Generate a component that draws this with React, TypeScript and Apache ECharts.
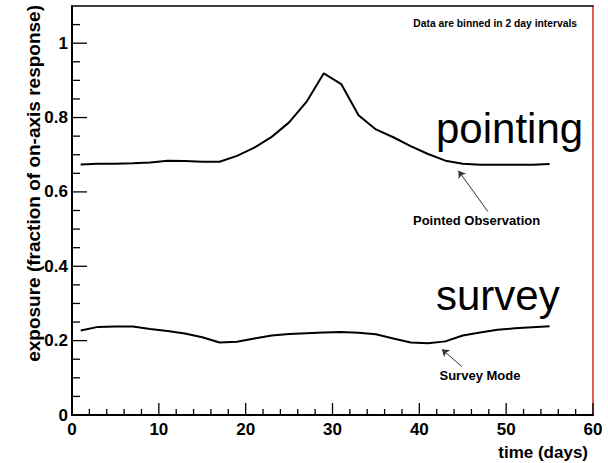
import React, { useEffect, useRef } from "react";
import * as echarts from "echarts";

// Bin centres (days) and exposure per bin
const days = [1, 3, 5, 7, 9, 11, 13, 15, 17, 19, 21, 23, 25, 27, 29, 31, 33, 35, 37, 39, 41, 43, 45, 47, 49, 51, 53, 55];
const pointing = [0.674, 0.676, 0.676, 0.677, 0.679, 0.684, 0.683, 0.681, 0.681, 0.697, 0.719, 0.748, 0.787, 0.842, 0.919, 0.89, 0.806, 0.768, 0.747, 0.723, 0.702, 0.684, 0.676, 0.673, 0.673, 0.673, 0.673, 0.675];
const survey = [0.227, 0.237, 0.238, 0.238, 0.231, 0.226, 0.219, 0.209, 0.195, 0.197, 0.206, 0.214, 0.218, 0.22, 0.222, 0.223, 0.221, 0.217, 0.206, 0.195, 0.193, 0.198, 0.214, 0.222, 0.229, 0.233, 0.236, 0.239];

// Labelled tick values
const xTickLabels = [0, 10, 20, 30, 40, 50, 60];
const yTickLabels = [0, 0.2, 0.4, 0.6, 0.8, 1];

// Axis ranges and minor tick spacing
const X_MAX = 60;
const Y_MAX = 1.1;
const X_MINOR = 2;
const Y_MINOR = 0.05;

// Annotation arrows in data coordinates: [tail, head]
const pointedArrow = [[47.9, 0.547], [44.5, 0.657]];
const surveyArrow = [[44.9, 0.13], [42.6, 0.177]];

const FONT = "'Liberation Sans', Arial, Helvetica, sans-serif";
const TICK_W = 1.3;

const near = (a: number, b: number) => Math.abs(a - b) < 1e-6;
const isLabelled = (v: number, list: number[]) => list.some((t) => near(t, v));

// Inward ticks drawn as thin rectangles anchored on the axes
const xTickPoints: any[] = [];
for (let i = 0; i * X_MINOR <= X_MAX + 1e-9; i++) {
  const v = i * X_MINOR;
  const len = isLabelled(v, xTickLabels) ? 12 : 6;
  xTickPoints.push({ value: [v, 0], symbolSize: [TICK_W, len], symbolOffset: [0, -len / 2] });
}
const yTickPoints: any[] = [];
for (let i = 0; i * Y_MINOR < Y_MAX - 1e-9; i++) {
  const v = Math.round(i * Y_MINOR * 1000) / 1000;
  const len = isLabelled(v, yTickLabels) ? 15 : 8;
  yTickPoints.push({ value: [0, v], symbolSize: [len, TICK_W], symbolOffset: [len / 2, 0] });
}

const textItems = [
  {
    type: "text",
    x: 33,
    y: 5,
    rotation: Math.PI / 2,
    style: {
      text: "exposure (fraction of on-axis response)",
      fill: "#000",
      font: `bold 19px ${FONT}`,
      align: "right",
      verticalAlign: "middle",
    },
  },
  {
    type: "text",
    x: 588,
    y: 452,
    style: { text: "time (days)", fill: "#000", font: `bold 17px ${FONT}`, align: "right", verticalAlign: "middle" },
  },
  {
    type: "text",
    x: 577,
    y: 23,
    style: {
      text: "Data are binned in 2 day intervals",
      fill: "#000",
      font: `bold 10.3px ${FONT}`,
      align: "right",
      verticalAlign: "middle",
    },
  },
  {
    type: "text",
    x: 436,
    y: 128,
    style: { text: "pointing", fill: "#000", font: `42px ${FONT}`, align: "left", verticalAlign: "middle" },
  },
  {
    type: "text",
    x: 436,
    y: 295,
    style: { text: "survey", fill: "#000", font: `42px ${FONT}`, align: "left", verticalAlign: "middle" },
  },
  {
    type: "text",
    x: 413,
    y: 220,
    style: { text: "Pointed Observation", fill: "#000", font: `bold 13px ${FONT}`, align: "left", verticalAlign: "middle" },
  },
  {
    type: "text",
    x: 439.5,
    y: 375,
    style: { text: "Survey Mode", fill: "#000", font: `bold 13px ${FONT}`, align: "left", verticalAlign: "middle" },
  },
];

export default function App() {
  const ref = useRef<HTMLDivElement>(null);

  useEffect(() => {
    if (!ref.current) return;
    const chart = echarts.init(ref.current, undefined, { renderer: "svg" });

    const labelStyle = { color: "#000", fontFamily: FONT, fontWeight: "bold" as const, fontSize: 17 };
    const frameOnly = {
      axisTick: { show: false },
      axisLabel: { show: false },
      splitLine: { show: false },
    };
    const tickSeries = (name: string, data: any[]) => ({
      name,
      type: "scatter",
      xAxisIndex: 0,
      yAxisIndex: 0,
      silent: true,
      clip: false,
      z: 6,
      symbol: "rect",
      itemStyle: { color: "#000", opacity: 1 },
      emphasis: { disabled: true },
      data,
    });

    chart.setOption({
      animation: false,
      grid: { left: 72, right: 15, top: 6, bottom: 48, containLabel: false },
      xAxis: [
        {
          type: "value",
          position: "bottom",
          min: 0,
          max: X_MAX,
          interval: 10,
          axisLine: { show: true, onZero: false, lineStyle: { color: "#000", width: 2 } },
          axisTick: { show: false },
          axisLabel: {
            ...labelStyle,
            margin: 6,
            formatter: (v: number) => (isLabelled(v, xTickLabels) ? String(v) : ""),
          },
          splitLine: { show: false },
        },
        {
          type: "value",
          position: "top",
          min: 0,
          max: X_MAX,
          axisLine: { show: true, onZero: false, lineStyle: { color: "#000", width: 1.5 } },
          ...frameOnly,
        },
      ],
      yAxis: [
        {
          type: "value",
          position: "left",
          min: 0,
          max: Y_MAX,
          interval: 0.2,
          axisLine: { show: true, onZero: false, lineStyle: { color: "#000", width: 2 } },
          axisTick: { show: false },
          axisLabel: {
            ...labelStyle,
            margin: 4,
            formatter: (v: number) => (isLabelled(v, yTickLabels) ? String(Math.round(v * 10) / 10) : ""),
          },
          splitLine: { show: false },
        },
        {
          type: "value",
          position: "right",
          min: 0,
          max: Y_MAX,
          axisLine: { show: true, onZero: false, lineStyle: { color: "#d42a1a", width: 1.5 } },
          ...frameOnly,
        },
      ],
      series: [
        {
          name: "Pointed Observation",
          type: "line",
          xAxisIndex: 0,
          yAxisIndex: 0,
          data: days.map((d, i) => [d, pointing[i]]),
          showSymbol: false,
          lineStyle: { color: "#000", width: 2 },
        },
        {
          name: "Survey Mode",
          type: "line",
          xAxisIndex: 0,
          yAxisIndex: 0,
          data: days.map((d, i) => [d, survey[i]]),
          showSymbol: false,
          lineStyle: { color: "#000", width: 2 },
          markLine: {
            silent: true,
            symbol: ["none", "arrow"],
            symbolSize: 7,
            label: { show: false },
            emphasis: { disabled: true },
            lineStyle: { color: "#333", width: 1, type: "solid" },
            data: [
              [{ coord: pointedArrow[0] }, { coord: pointedArrow[1] }],
              [{ coord: surveyArrow[0] }, { coord: surveyArrow[1] }],
            ],
          },
        },
        tickSeries("x ticks", xTickPoints),
        tickSeries("y ticks", yTickPoints),
      ],
      graphic: textItems,
    });

    return () => chart.dispose();
  }, []);

  return <div ref={ref} style={{ width: 608, height: 463, position: "absolute", left: 0, top: 0, background: "#fff" }} />;
}
